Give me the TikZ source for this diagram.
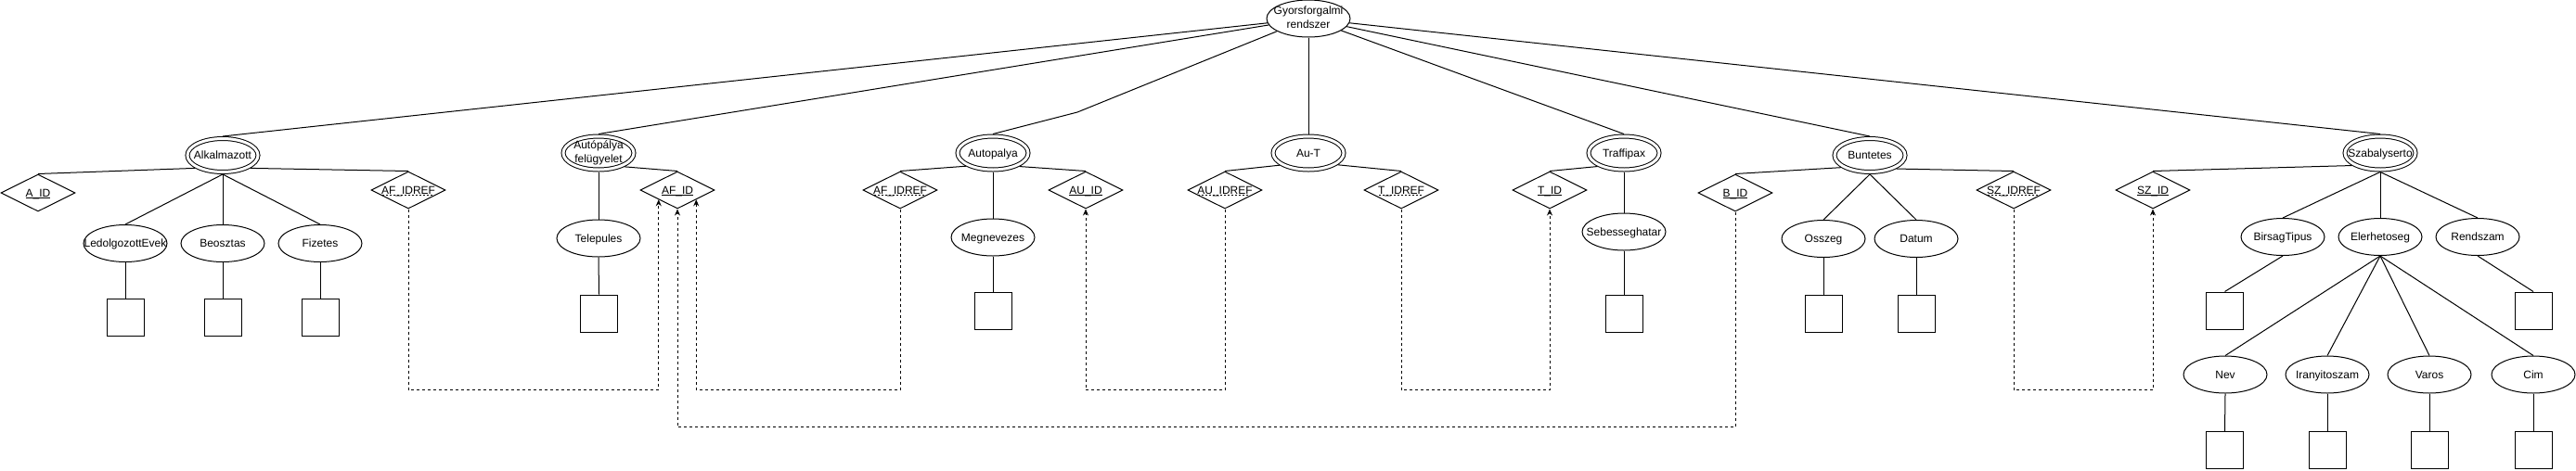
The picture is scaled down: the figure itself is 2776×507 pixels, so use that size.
\documentclass[tikz,border=0pt]{standalone}
\usepackage{fontspec}
\setmainfont{Liberation Sans}
\usetikzlibrary{shapes.geometric,arrows.meta}
\newsavebox\ulbox
\newcommand\tx[1]{\makebox[0pt]{\rule[-2.6pt]{0pt}{13.4pt}#1}}
\newcommand\ttwo[2]{\makebox[0pt]{\raisebox{-3pt}[0pt][0pt]{\begin{tabular}{@{}c@{}}#1\\#2\end{tabular}}}}
\newcommand\sul[1]{\sbox\ulbox{#1}\rlap{\usebox\ulbox}\raisebox{-2pt}{\rule{\wd\ulbox}{0.7pt}}}
\newcommand\dul[1]{\sbox\ulbox{#1}\rlap{\usebox\ulbox}\raisebox{-2pt}{\hbox to \wd\ulbox{\leaders\hbox to 4pt{\hss\rule{2pt}{0.7pt}\hss}\hfill}}}
\begin{document}
\begin{tikzpicture}[x=1pt,y=-1pt,line width=1pt,
  font=\fontsize{12}{14.4}\selectfont,
  entity/.style={ellipse,draw,double,double distance=3pt,inner sep=0pt,minimum width=76pt,minimum height=36pt,outer sep=2.5pt},
  attr/.style={ellipse,draw,inner sep=0pt,minimum width=90pt,minimum height=40pt},
  keyd/.style={diamond,draw,inner sep=0pt,minimum width=80pt,minimum height=40pt},
  sqbox/.style={rectangle,draw,inner sep=0pt,minimum size=40pt},
  refl/.style={draw,dash pattern=on 3pt off 3pt,-{Stealth[length=7pt,width=6pt]}}]
\useasboundingbox (0,0) rectangle (2776,507);

% root
\node[attr] (gy) at (1410,20) {\ttwo{Gyorsforgalmi}{rendszer}};

% entities
\node[entity] (alk) at (240,167.5) {\tx{Alkalmazott}};
\node[entity] (apf) at (645,165) {\ttwo{Autópálya}{felügyelet}};
\node[entity] (autop) at (1070,165) {\tx{Autopalya}};
\node[entity] (aut) at (1410,165) {\tx{Au-T}};
\node[entity] (traf) at (1750,165) {\tx{Traffipax}};
\node[entity] (bun) at (2015,167.5) {\tx{Buntetes}};
\node[entity] (szab) at (2565,165) {\tx{Szabalyserto}};

% keys
\node[keyd] (aid) at (41,208) {\tx{\sul{A\_ID}}};
\node[keyd] (afr1) at (440,205) {\tx{\dul{AF\_IDREF}}};
\node[keyd] (afid) at (730,205) {\tx{\sul{AF\_ID}}};
\node[keyd] (afr2) at (970,205) {\tx{\dul{AF\_IDREF}}};
\node[keyd] (auid) at (1170,205) {\tx{\sul{AU\_ID}}};
\node[keyd] (aur) at (1320,205) {\tx{\dul{AU\_IDREF}}};
\node[keyd] (tr) at (1510,205) {\tx{\dul{T\_IDREF}}};
\node[keyd] (tid) at (1670,205) {\tx{\sul{T\_ID}}};
\node[keyd] (bid) at (1870,208) {\tx{\sul{B\_ID}}};
\node[keyd] (szr) at (2170,205) {\tx{\dul{SZ\_IDREF}}};
\node[keyd] (szid) at (2320,205) {\tx{\sul{SZ\_ID}}};

% attributes
\node[attr] (led) at (135,262.5) {\tx{LedolgozottEvek}};
\node[attr] (beo) at (240,262.5) {\tx{Beosztas}};
\node[attr] (fiz) at (345,262.5) {\tx{Fizetes}};
\node[attr] (tel) at (645,257) {\tx{Telepules}};
\node[attr] (meg) at (1070,256) {\tx{Megnevezes}};
\node[attr] (seb) at (1750,250) {\tx{Sebesseghatar}};
\node[attr] (osz) at (1965,257.5) {\tx{Osszeg}};
\node[attr] (dat) at (2065,257.5) {\tx{Datum}};
\node[attr] (bir) at (2460,255.5) {\tx{BirsagTipus}};
\node[attr] (ele) at (2565,255.5) {\tx{Elerhetoseg}};
\node[attr] (ren) at (2670,255.5) {\tx{Rendszam}};
\node[attr] (nev) at (2398,404) {\tx{Nev}};
\node[attr] (ir) at (2508,404) {\tx{Iranyitoszam}};
\node[attr] (var) at (2618,404) {\tx{Varos}};
\node[attr] (cim) at (2730,404) {\tx{Cim}};

% value boxes
\node[sqbox] (sled) at (135,342.5) {};
\node[sqbox] (sbeo) at (240,342.5) {};
\node[sqbox] (sfiz) at (345,342.5) {};
\node[sqbox] (stel) at (645.5,338) {};
\node[sqbox] (smeg) at (1070,335) {};
\node[sqbox] (sseb) at (1750,338) {};
\node[sqbox] (sosz) at (1965,338) {};
\node[sqbox] (sdat) at (2065,338) {};
\node[sqbox] (sbir) at (2397.5,335) {};
\node[sqbox] (sren) at (2730,335) {};
\node[sqbox] (snev) at (2397.5,485.5) {};
\node[sqbox] (sir) at (2508,485.5) {};
\node[sqbox] (svar) at (2618,485.5) {};
\node[sqbox] (scim) at (2730,485.5) {};

% root links
\coordinate (kb) at (1161,121);
\draw (gy) -- (alk.north);
\draw (gy) -- (apf.north);
\draw (gy) -- (kb) -- (autop.north);
\draw (gy) -- (aut.north);
\draw (gy) -- (traf.north);
\draw (gy) -- (bun.north);
\draw (gy) -- (szab.north);

% entity - key links
\draw (aid.north) -- (alk.205);
\draw (afr1.north) -- (alk.335);
\draw (afid.north) -- (apf.332);
\draw (afr2.north) -- (autop.206);
\draw (auid.north) -- (autop.333);
\draw (aur.north) -- (aut.203);
\draw (tr.north) -- (aut.338);
\draw (tid.north) -- (traf.207);
\draw (bid.north) -- (bun.203);
\draw (szr.north) -- (bun.333);
\draw (szid.north) -- (szab.204);

% entity - attribute links
\draw (alk.south) -- (led.north);
\draw (alk.south) -- (beo.north);
\draw (alk.south) -- (fiz.north);
\draw (apf.south) -- (tel.north);
\draw (autop.south) -- (meg.north);
\draw (traf.south) -- (seb.north);
\draw (bun.south) -- (osz.north);
\draw (bun.south) -- (dat.north);
\draw (szab.south) -- (bir.north);
\draw (szab.south) -- (ele.north);
\draw (szab.south) -- (ren.north);
\draw (ele.south) -- (nev.north);
\draw (ele.south) -- (ir.north);
\draw (ele.south) -- (var.north);
\draw (ele.south) -- (cim.north);

% attribute - value links
\draw (led.south) -- (sled.north);
\draw (beo.south) -- (sbeo.north);
\draw (fiz.south) -- (sfiz.north);
\draw (tel.south) -- (stel.north);
\draw (meg.south) -- (smeg.north);
\draw (seb.south) -- (sseb.north);
\draw (osz.south) -- (sosz.north);
\draw (dat.south) -- (sdat.north);
\draw (bir.south) -- (sbir.north);
\draw (ren.south) -- (sren.north);
\draw (nev.south) -- (snev.north);
\draw (ir.south) -- (sir.north);
\draw (var.south) -- (svar.north);
\draw (cim.south) -- (scim.north);

% reference links
\draw[refl] (afr1.south) -- ++(0,195) -| (afid.south west);
\draw[refl] (afr2.south) -- ++(0,195) -| (afid.south east);
\draw[refl] (bid.south) -- ++(0,232) -| (afid.south);
\draw[refl] (aur.south) -- ++(0,195) -| (auid.south);
\draw[refl] (tr.south) -- ++(0,195) -| (tid.south);
\draw[refl] (szr.south) -- ++(0,195) -| (szid.south);
\end{tikzpicture}
\end{document}
